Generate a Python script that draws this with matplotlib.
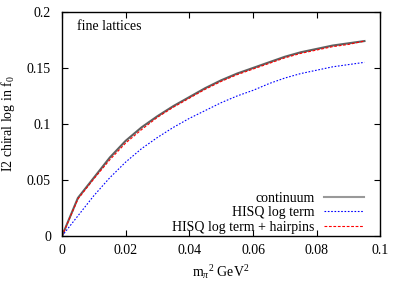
import matplotlib
matplotlib.use("Agg")
import matplotlib.pyplot as plt
from matplotlib.ticker import FuncFormatter

plt.rcParams['font.family'] = ['Liberation Serif', 'DejaVu Serif']
plt.rcParams['mathtext.fontset'] = 'custom'
plt.rcParams['mathtext.rm'] = 'Liberation Serif'
plt.rcParams['mathtext.it'] = 'Liberation Serif:italic'

# m_pi^2 in GeV^2, sampled every 0.005
msq = [0.000, 0.005, 0.010, 0.015, 0.020, 0.025, 0.030, 0.035, 0.040, 0.045,
       0.050, 0.055, 0.060, 0.065, 0.070, 0.075, 0.080, 0.085, 0.090, 0.095]

continuum = [0.000, 0.034, 0.052, 0.070, 0.085, 0.097, 0.107, 0.116, 0.124, 0.132,
             0.139, 0.145, 0.150, 0.155, 0.160, 0.164, 0.167, 0.170, 0.172, 0.174]

hisq_log = [0.000, 0.018, 0.036, 0.052, 0.066, 0.078, 0.088, 0.097, 0.105, 0.112,
            0.119, 0.125, 0.130, 0.136, 0.141, 0.145, 0.148, 0.151, 0.153, 0.155]

hisq_hairpins = [0.000, 0.033, 0.051, 0.068, 0.083, 0.095, 0.106, 0.115, 0.123, 0.131,
                 0.138, 0.144, 0.149, 0.154, 0.159, 0.163, 0.166, 0.169, 0.171, 0.174]

xticks = [0, 0.02, 0.04, 0.06, 0.08, 0.1]
yticks = [0, 0.05, 0.1, 0.15, 0.2]

fs = 10

fig = plt.figure(figsize=(3.95, 2.84), dpi=100)
ax = fig.add_axes([0.157, 0.169, 0.806, 0.789])

ax.plot(msq, continuum, color="#606060", lw=1.5, label="continuum")
ax.plot(msq, hisq_log, color="blue", lw=0.8, ls=(0, (1.5, 1.5)), label="HISQ log term")
ax.plot(msq, hisq_hairpins, color="red", lw=0.8, ls=(0, (2.5, 1.5)),
        label="HISQ log term + hairpins")

ax.set_xlim(0, 0.1)
ax.set_ylim(0, 0.2)
ax.set_xticks(xticks)
ax.set_yticks(yticks)
fmt = FuncFormatter(lambda v, p: "%g" % v)
ax.xaxis.set_major_formatter(fmt)
ax.yaxis.set_major_formatter(fmt)
ax.tick_params(direction="in", length=4, width=0.8, top=True, right=True,
               labelsize=fs)
ax.tick_params(axis="y", pad=8)
ax.tick_params(axis="x", pad=6)
for s in ax.spines.values():
    s.set_linewidth(1.0)

ax.set_xlabel(r"m$_\pi$$^2$ GeV$^2$", fontsize=fs, labelpad=4)
ax.set_ylabel(r"I2 chiral log in f$_0$", fontsize=fs, labelpad=7)

ax.text(0.048, 0.965, "fine lattices", transform=ax.transAxes, fontsize=fs,
        va="top", ha="left")

leg = ax.legend(loc="lower right", bbox_to_anchor=(0.97, -0.022), frameon=False,
                fontsize=fs, markerfirst=False, borderpad=0,
                handlelength=2.9, handletextpad=0.65, labelspacing=0.12)
for t in leg.get_texts():
    t.set_ha("right")
leg.get_lines()[0].set_color("#999999")

fig.savefig("out.png", dpi=100)
